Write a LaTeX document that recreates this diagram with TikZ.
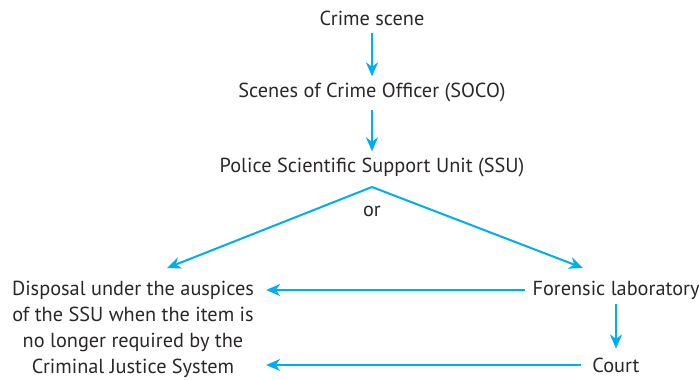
\documentclass[tikz,border=0pt]{standalone}
\usepackage{fontspec}
\setmainfont{PT Sans}
\usetikzlibrary{arrows.meta}
\definecolor{arrowblue}{HTML}{00AEEF}
\definecolor{textgrey}{HTML}{2B2728}
\tikzset{
  lbl/.style={text=textgrey, inner sep=0pt, font=\fontsize{20.3}{26}\selectfont},
  arr/.style={draw=arrowblue, line width=2pt, -{Stealth[length=14pt,width=12pt,inset=4.5pt]}}
}
\begin{document}
\begin{tikzpicture}[x=1pt,y=-1pt]
\useasboundingbox (0,0) rectangle (699,380);
\node[lbl] (cs) at (372,18) {Crime scene};
\node[lbl] (soco) at (372,93) {Scenes of Crime Officer (SOCO)};
\node[lbl] (ssu) at (372,168) {Police Scientific Support Unit (SSU)};
\node[lbl] (or) at (372,211) {or};
\node[lbl, align=center] (disp) at (133,329) {Disposal under the auspices\\of the SSU when the item is\\no longer required by the\\Criminal Justice System};
\node[lbl] (lab) at (616,290) {Forensic laboratory};
\node[lbl] (court) at (616,365) {Court};
\coordinate (apex) at (372,187);
\coordinate (ltip) at (167,268);
\coordinate (rtip) at (583,268);
\draw[arr, shorten <=7pt, shorten >=7pt] (cs) -- (soco);
\draw[arr, shorten <=7pt, shorten >=7pt] (soco) -- (ssu);
\draw[arr] (apex) -- (ltip);
\draw[arr] (apex) -- (rtip);
\draw[arr, shorten <=7pt, shorten >=12pt] (lab.west) -- (lab.west -| disp.east);
\draw[arr, shorten <=11pt, shorten >=12pt] (court.west) -- (court.west -| disp.east);
\draw[arr, shorten <=5pt, shorten >=9pt] (lab.south -| court.north) -- (court.north);
\end{tikzpicture}
\end{document}
